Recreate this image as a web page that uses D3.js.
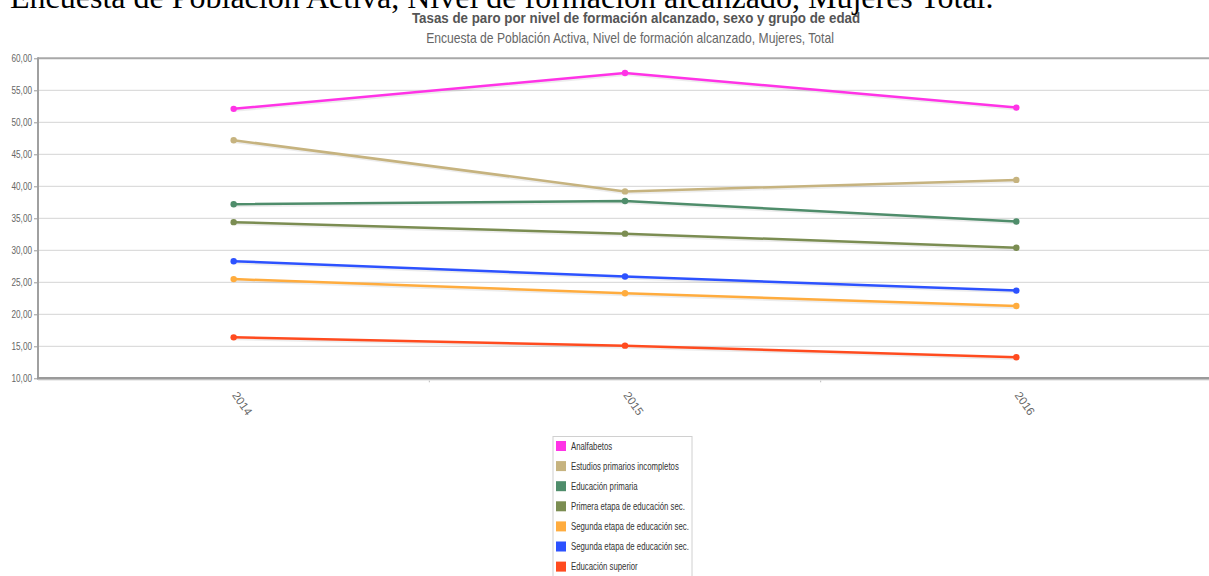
<!DOCTYPE html>
<html>
<head>
<meta charset="utf-8">
<script src="https://cdn.jsdelivr.net/npm/d3@7/dist/d3.min.js"></script>
<style>
  html, body { margin: 0; padding: 0; background: #fff; overflow: hidden; }
  svg { display: block; }
  .sans { font-family: "Liberation Sans", Arial, sans-serif; }
</style>
</head>
<body>
<svg id="chart" width="1209" height="576"></svg>
<script>
const years = ["2014", "2015", "2016"];
const seriesNames = [
  "Analfabetos",
  "Estudios primarios incompletos",
  "Educación primaria",
  "Primera etapa de educación sec.",
  "Segunda etapa de educación sec.",
  "Segunda etapa de educación sec.",
  "Educación superior"
];
const seriesColors = ["#ff33e6", "#c6b37f", "#4f8d6b", "#7b8d52", "#ffac3e", "#2d52ff", "#ff4b1f"];
const analfabetos = [52.1, 57.7, 52.3];
const primariosIncompletos = [47.2, 39.2, 41.0];
const educacionPrimaria = [37.2, 37.7, 34.5];
const primeraEtapa = [34.4, 32.6, 30.4];
const segundaEtapaA = [25.5, 23.3, 21.3];
const segundaEtapaB = [28.3, 25.9, 23.7];
const educacionSuperior = [16.4, 15.1, 13.3];
const seriesValues = [analfabetos, primariosIncompletos, educacionPrimaria, primeraEtapa, segundaEtapaA, segundaEtapaB, educacionSuperior];
const yTicks = [10, 15, 20, 25, 30, 35, 40, 45, 50, 55, 60];

(function () {
const svg = d3.select("#chart");
const fmt = v => d3.format(".2f")(v).replace(".", ",");
const NARROW = 0.82;

const pLeft = 38, pRight = 1212, pTop = 58.3, pBottom = 378.3;
const x = d3.scaleBand().domain(years).range([pLeft, pRight]);
const y = d3.scaleLinear().domain([10, 60]).range([pBottom, pTop]);

// narrow text helper
function ntext(parent, tx, ty, str, size, opts = {}) {
  return parent.append("text").attr("class", "sans")
    .attr("transform", `translate(${tx},${ty}) scale(${opts.sx || NARROW},1)`)
    .attr("text-anchor", opts.anchor || "start")
    .attr("dy", opts.dy || null)
    .attr("font-size", size)
    .attr("font-weight", opts.weight || null)
    .attr("fill", opts.fill || "#333")
    .text(str);
}

// page header (clipped)
svg.append("text")
  .attr("x", 10).attr("y", 8)
  .attr("font-family", "'Liberation Serif', 'Times New Roman', serif")
  .attr("font-size", 32)
  .attr("fill", "#000")
  .text("Encuesta de Población Activa, Nivel de formación alcanzado, Mujeres Total.");

ntext(svg, 636, 23, "Tasas de paro por nivel de formación alcanzado, sexo y grupo de edad", 15,
  { anchor: "middle", weight: "bold", fill: "#555", sx: 0.89 });
ntext(svg, 630, 43, "Encuesta de Población Activa, Nivel de formación alcanzado, Mujeres, Total", 14,
  { anchor: "middle", fill: "#666", sx: 0.867 });

// gridlines
svg.append("g").selectAll("line").data(yTicks.filter(t => t > 10 && t < 60)).join("line")
  .attr("x1", pLeft).attr("x2", pRight)
  .attr("y1", d => y(d)).attr("y2", d => y(d))
  .attr("stroke", "#d4d4d4").attr("stroke-width", 1);

// top border
svg.append("line").attr("x1", pLeft).attr("x2", pRight).attr("y1", y(60)).attr("y2", y(60))
  .attr("stroke", "#a8a8a8").attr("stroke-width", 2);

// y axis
const yAxis = svg.append("g").attr("transform", `translate(${pLeft},0)`)
  .call(d3.axisLeft(y).tickValues(yTicks).tickFormat(fmt).tickSize(4).tickPadding(3));
yAxis.select(".domain").remove();
yAxis.selectAll(".tick line").attr("stroke", "#999");
yAxis.selectAll(".tick text")
  .attr("class", "sans").attr("font-size", 10).attr("fill", "#666")
  .attr("x", null)
  .attr("transform", `translate(-6,0) scale(${NARROW},1)`);
svg.append("line").attr("x1", pLeft).attr("x2", pLeft).attr("y1", pTop - 1).attr("y2", pBottom + 1)
  .attr("stroke", "#a0a0a0").attr("stroke-width", 2);

// x axis
const xAxis = svg.append("g").attr("transform", `translate(0,${pBottom})`)
  .call(d3.axisBottom(x).tickSize(0).tickPadding(0));
xAxis.select(".domain").remove();
xAxis.selectAll(".tick text")
  .attr("class", "sans")
  .attr("font-size", 11.5).attr("fill", "#666")
  .attr("text-anchor", "start")
  .attr("dy", 0).attr("y", 0)
  .attr("transform", "translate(-2,17) rotate(55)");
// band boundary ticks
svg.append("g").selectAll("line").data(years.slice(1)).join("line")
  .attr("x1", d => x(d)).attr("x2", d => x(d))
  .attr("y1", pBottom).attr("y2", pBottom + 4)
  .attr("stroke", "#bbb").attr("stroke-width", 1);
svg.append("line").attr("x1", pLeft).attr("x2", pRight).attr("y1", pBottom + 1.5).attr("y2", pBottom + 1.5)
  .attr("stroke", "#e6e6e6").attr("stroke-width", 2);
svg.append("line").attr("x1", pLeft - 1).attr("x2", pRight).attr("y1", pBottom).attr("y2", pBottom)
  .attr("stroke", "#9a9a9a").attr("stroke-width", 2.5);

// series
const cx = d => x(d) + x.bandwidth() / 2;
const line = d3.line().x((d, i) => cx(years[i])).y(d => y(d));
const g = svg.append("g");
seriesValues.forEach((vals, si) => {
  g.append("path").datum(vals)
    .attr("d", line).attr("fill", "none")
    .attr("stroke", "rgba(0,0,0,0.07)").attr("stroke-width", 3)
    .attr("transform", "translate(1,1.5)");
  g.append("path").datum(vals)
    .attr("d", line).attr("fill", "none")
    .attr("stroke", seriesColors[si]).attr("stroke-width", 2.5)
    .attr("stroke-linejoin", "round");
  g.selectAll(null).data(vals).join("circle")
    .attr("cx", (d, i) => cx(years[i])).attr("cy", d => y(d)).attr("r", 3.2)
    .attr("fill", seriesColors[si]);
});

// legend
const legX = 553, legY = 436.5;
svg.append("rect").attr("x", legX).attr("y", legY).attr("width", 139).attr("height", 150)
  .attr("fill", "#fff").attr("stroke", "#d0d0d0").attr("stroke-width", 1);
const items = svg.append("g").selectAll("g").data(seriesNames).join("g")
  .attr("transform", (d, i) => `translate(${legX + 3},${446 + i * 20.1})`);
items.append("rect").attr("x", 0).attr("y", -5).attr("width", 10).attr("height", 10)
  .attr("fill", (d, i) => seriesColors[i]);
items.each(function (d) {
  ntext(d3.select(this), 15, 0, d, 11, { dy: "0.35em", fill: "#333", sx: 0.71 });
});
})();
</script>
</body>
</html>
